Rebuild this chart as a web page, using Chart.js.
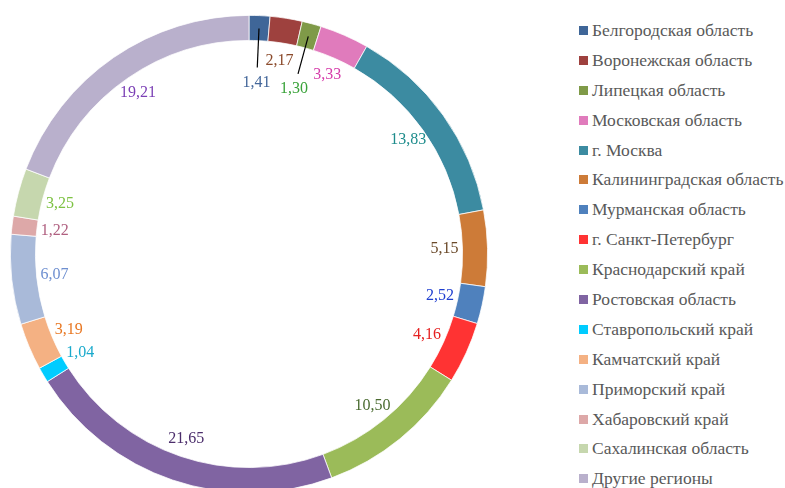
<!DOCTYPE html>
<html>
<head>
<meta charset="utf-8">
<script src="https://cdn.jsdelivr.net/npm/chart.js@4"></script>
<style>
  html, body { margin: 0; padding: 0; background: #fff; overflow: hidden; width: 785px; height: 488px; }
  #wrap { position: relative; width: 785px; height: 488px; }
  #pie { position: absolute; left: 0; top: 0; }
  #legend { position: absolute; left: 579px; top: 16px; margin: 0; padding: 0; list-style: none;
    font-family: "Liberation Serif", "Times New Roman", serif; font-size: 17.5px; color: #595959; }
  #legend li { height: 29.9px; line-height: 29.9px; white-space: nowrap; }
  #legend span { display: inline-block; width: 9px; height: 9px; margin-right: 4px; vertical-align: 1px; }
</style>
</head>
<body>
<div id="wrap">
  <canvas id="pie" width="500" height="508"></canvas>
  <ul id="legend"></ul>
</div>
<script>
const regions = ["Белгородская область", "Воронежская область", "Липецкая область", "Московская область",
  "г. Москва", "Калининградская область", "Мурманская область", "г. Санкт-Петербург",
  "Краснодарский край", "Ростовская область", "Ставропольский край", "Камчатский край",
  "Приморский край", "Хабаровский край", "Сахалинская область", "Другие регионы"];
const shares = [1.41, 2.17, 1.30, 3.33, 13.83, 5.15, 2.52, 4.16, 10.50, 21.65, 1.04, 3.19, 6.07, 1.22, 3.25, 19.21];

const sliceColors = ["#3F6698", "#9E413E", "#7F9A48", "#E07BBC", "#3C8BA1", "#CD7B38", "#4F81BD", "#FF3333",
  "#9BBB59", "#8064A2", "#00CCFF", "#F4B183", "#A9BAD9", "#DDA8A8", "#C6D7AE", "#B9B0CC"];
const labelColors = ["#44679A", "#8B4A2B", "#3AA33A", "#D63CAA", "#1E8C8C", "#6B4A2A", "#1F3FD0", "#E52020",
  "#4A6B30", "#4B2D6B", "#1AAACC", "#E87722", "#6E8FD0", "#B06080", "#7DC242", "#7B3FB5"];

// small slices at the top get their labels pulled inward with a leader line
const pulledIn = { 0: true, 2: true };

const valueLabels = {
  id: "valueLabels",
  afterDatasetsDraw(chart) {
    const ctx = chart.ctx;
    const meta = chart.getDatasetMeta(0);
    ctx.save();
    ctx.font = "16px 'Liberation Serif', 'Times New Roman', serif";
    ctx.textAlign = "center";
    ctx.textBaseline = "middle";
    meta.data.forEach((arc, i) => {
      const p = arc.getProps(["x", "y", "startAngle", "endAngle", "outerRadius"], true);
      const mid = (p.startAngle + p.endAngle) / 2;
      let r = p.outerRadius - 43;
      if (pulledIn[i]) {
        r = p.outerRadius - 67;
        ctx.strokeStyle = "#000";
        ctx.lineWidth = 1.2;
        ctx.beginPath();
        ctx.moveTo(p.x + Math.cos(mid) * (p.outerRadius - 13), p.y + Math.sin(mid) * (p.outerRadius - 13));
        ctx.lineTo(p.x + Math.cos(mid) * (p.outerRadius - 52), p.y + Math.sin(mid) * (p.outerRadius - 52));
        ctx.stroke();
      }
      ctx.fillStyle = labelColors[i];
      ctx.fillText(shares[i].toFixed(2).replace(".", ","), p.x + Math.cos(mid) * r, p.y + Math.sin(mid) * r);
    });
    ctx.restore();
  }
};

new Chart(document.getElementById("pie"), {
  type: "doughnut",
  data: {
    labels: regions,
    datasets: [{ data: shares, backgroundColor: sliceColors, borderColor: "#fff", borderWidth: 0.75 }]
  },
  options: {
    responsive: false,
    animation: false,
    cutout: "89.5%",
    layout: { padding: { left: 10, right: 12, top: 15, bottom: 15 } },
    plugins: { legend: { display: false }, tooltip: { enabled: false } }
  },
  plugins: [valueLabels]
});

const legend = document.getElementById("legend");
regions.forEach((name, i) => {
  const li = document.createElement("li");
  li.innerHTML = `<span style="background:${sliceColors[i]}"></span>${name}`;
  legend.appendChild(li);
});
</script>
</body>
</html>
